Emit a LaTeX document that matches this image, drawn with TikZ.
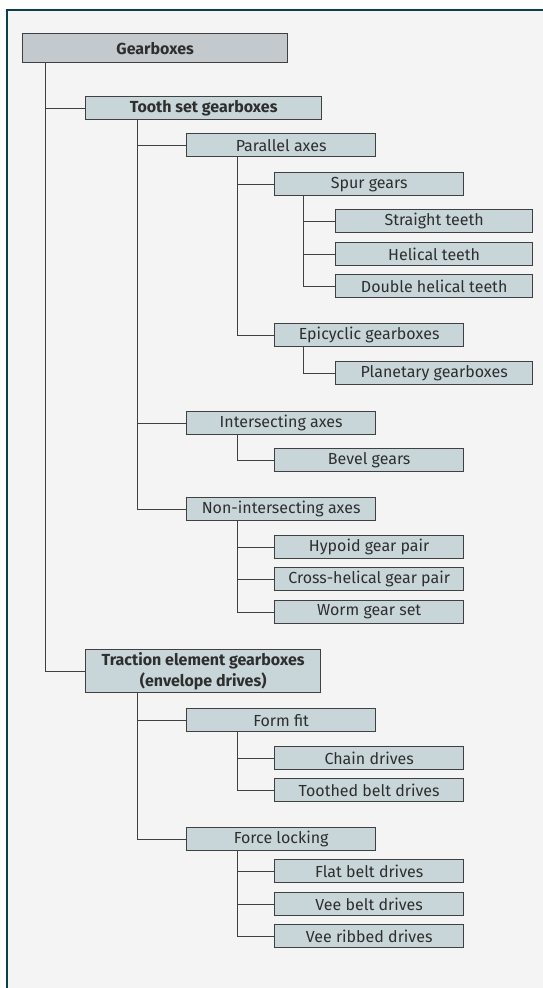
\documentclass[tikz,border=0pt]{standalone}
\usepackage{fontspec}
\setmainfont{Fira Sans}
\usepackage{tikz}
\usetikzlibrary{positioning}
\usepackage{xcolor}

\definecolor{frameteal}{HTML}{0B3F4A}
\definecolor{pagegray}{HTML}{F4F4F4}
\definecolor{boxfill}{HTML}{C8D6D9}
\definecolor{rootfill}{HTML}{C4C9CD}
\definecolor{boxline}{HTML}{404040}
\definecolor{textgray}{HTML}{2E2E2E}

\begin{document}
\begin{tikzpicture}[
    x=1pt, y=-1pt,
    box/.style={rectangle, draw=boxline, line width=1.3pt, fill=boxfill, anchor=north west, inner sep=0pt, align=center, text=textgray, font=\fontsize{16}{21}\selectfont}, % every box of the tree
    group/.style={box, font=\fontsize{16}{21}\selectfont\bfseries}, % main groups in bold
    lvlone/.style={box, minimum width=189pt, minimum height=23pt},
    lvltwo/.style={box, minimum width=197pt, minimum height=23pt},
    link/.style={draw=boxline, line width=0.9pt},
]

% Page background and frame
\useasboundingbox (0,0) rectangle (543,988);
\fill[pagegray] (7,10) rectangle (543,988);
\draw[frameteal, line width=2.6pt] (543,10) -- (7,10) -- (7,988);

% Root
\node[group, fill=rootfill, minimum width=265pt, minimum height=29pt] (root) at (22,33) {Gearboxes};

% Tooth set branch
\node[group, minimum width=236pt, minimum height=23pt] (toothset) at (85,96) {Tooth set gearboxes};

\node[box, minimum width=189pt, minimum height=23pt] (parallel) at (186,133) {Parallel axes};
\node[lvlone] (spur) at (274,172) {Spur gears};
\node[lvltwo] (straight) at (335,209) {Straight teeth};
\node[lvltwo] (helical) at (335,242) {Helical teeth};
\node[lvltwo] (dblhelical) at (335,274) {Double helical teeth};
\node[lvlone] (epicyclic) at (274,323) {Epicyclic gearboxes};
\node[lvltwo] (planetary) at (335,361) {Planetary gearboxes};

\node[box, minimum width=189pt, minimum height=23pt] (intersect) at (186,411) {Intersecting axes};
\node[lvlone] (bevel) at (274,448) {Bevel gears};

\node[box, minimum width=189pt, minimum height=23pt] (nonintersect) at (186,497) {Non-intersecting axes};
\node[lvlone] (hypoid) at (274,535) {Hypoid gear pair};
\node[lvlone] (crosshelical) at (274,567) {Cross-helical gear pair};
\node[lvlone] (worm) at (274,600) {Worm gear set};

% Traction element branch
\node[group, minimum width=235pt, minimum height=43pt] (traction) at (85,649) {Traction element gearboxes\\(envelope drives)};

\node[box, minimum width=189pt, minimum height=23pt] (formfit) at (186,708) {Form fit};
\node[lvlone] (chain) at (274,746) {Chain drives};
\node[lvlone] (toothbelt) at (274,778) {Toothed belt drives};

\node[box, minimum width=189pt, minimum height=23pt] (forcelock) at (186,827) {Force locking};
\node[lvlone] (flatbelt) at (274,859) {Flat belt drives};
\node[lvlone] (veebelt) at (274,892) {Vee belt drives};
\node[lvlone] (veeribbed) at (274,924) {Vee ribbed drives};

% Connections: root to main groups
\draw[link] ([xshift=23pt]root.south west) |- (toothset.west);
\draw[link] ([xshift=23pt]root.south west) |- (traction.west);

% tooth set to axes
\foreach \n in {parallel, intersect, nonintersect}
    \draw[link] ([xshift=52pt]toothset.south west) |- (\n.west);

% parallel axes to spur / epicyclic
\draw[link] ([xshift=51pt]parallel.south west) |- (spur.west);
\draw[link] ([xshift=51pt]parallel.south west) |- (epicyclic.west);
\foreach \n in {straight, helical, dblhelical}
    \draw[link] ([xshift=29pt]spur.south west) |- (\n.west);
\draw[link] ([xshift=29pt]epicyclic.south west) |- (planetary.west);

% intersecting / non-intersecting axes
\draw[link] ([xshift=51pt]intersect.south west) |- (bevel.west);
\foreach \n in {hypoid, crosshelical, worm}
    \draw[link] ([xshift=51pt]nonintersect.south west) |- (\n.west);

% traction element to form fit / force locking
\draw[link] ([xshift=52pt]traction.south west) |- (formfit.west);
\draw[link] ([xshift=52pt]traction.south west) |- (forcelock.west);
\foreach \n in {chain, toothbelt}
    \draw[link] ([xshift=51pt]formfit.south west) |- (\n.west);
\foreach \n in {flatbelt, veebelt, veeribbed}
    \draw[link] ([xshift=51pt]forcelock.south west) |- (\n.west);

\end{tikzpicture}
\end{document}
